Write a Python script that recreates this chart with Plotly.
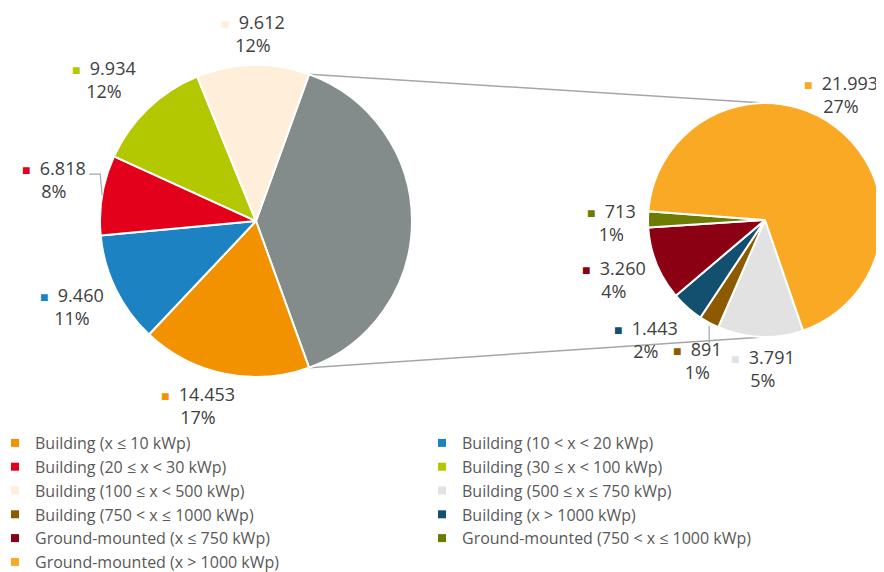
import math
import plotly.graph_objects as go

# data
main_labels = ["Building (x ≤ 10 kWp)", "Building (10 < x < 20 kWp)", "Building (20 ≤ x < 30 kWp)",
               "Building (30 ≤ x < 100 kWp)", "Building (100 ≤ x < 500 kWp)"]
main_values = [14453, 9460, 6818, 9934, 9612]
main_pct = ["17%", "11%", "8%", "12%", "12%"]

sub_labels = ["Building (500 ≤ x ≤ 750 kWp)", "Building (750 < x ≤ 1000 kWp)", "Building (x > 1000 kWp)",
              "Ground-mounted (x ≤ 750 kWp)", "Ground-mounted (750 < x ≤ 1000 kWp)",
              "Ground-mounted (x > 1000 kWp)"]
sub_values = [3791, 891, 1443, 3260, 713, 21993]
sub_pct = ["5%", "1%", "2%", "4%", "1%", "27%"]

legend_order = ["Building (x ≤ 10 kWp)", "Building (10 < x < 20 kWp)", "Building (20 ≤ x < 30 kWp)",
                "Building (30 ≤ x < 100 kWp)", "Building (100 ≤ x < 500 kWp)", "Building (500 ≤ x ≤ 750 kWp)",
                "Building (750 < x ≤ 1000 kWp)", "Building (x > 1000 kWp)", "Ground-mounted (x ≤ 750 kWp)",
                "Ground-mounted (750 < x ≤ 1000 kWp)", "Ground-mounted (x > 1000 kWp)"]

# styling
main_colors = ["#F39200", "#1D82C2", "#E3001B", "#B3C800", "#FEEEDA"]
other_color = "#848C8B"
sub_colors = ["#E1E2E1", "#8E5A00", "#134F6F", "#8B0013", "#6D7C00", "#F9A923"]
colors = dict(zip(main_labels + sub_labels, main_colors + sub_colors))

# the page body adds an 8px margin, so the figure is drawn 8px smaller
OFF = 8
W, H = 884 - OFF, 572 - OFF
LEG_TOP = 426                 # legend top in window pixels
HP = LEG_TOP - OFF            # plot area height; legend sits below it
FONT = "Open Sans"
TXT = "#404040"

# geometry (window pixels)
c1, r1 = (256, 221), 156
c2, r2 = (765, 220), 117
sub_rotation = 161
# label placement: (radius factor, angle nudge in degrees)
main_lab = [(1.24, 5.7), (1.30, 1.0), (1.32, 2.2), (1.335, -3.2), (1.20, 0.2)]
sub_lab = [(1.27, -1.3), (1.33, -3.0), (1.44, 3.2), (1.39, 0.6), (1.31, -1.4), (1.25, -6.5)]
leader_main = [False, False, True, False, False]
leader_sub = [False, True, False, False, False, False]


def px(x):
    return (x - OFF) / W


def py(y):
    return 1 - (y - OFF) / HP


def fmt(v):
    return f"{v:,}".replace(",", ".")


other_value = sum(sub_values)
total = sum(main_values) + other_value
main_rotation = 90 - other_value / total * 180
other_span = other_value / total * 360


def point(c, r, ang):
    a = math.radians(ang)
    return c[0] + r * math.sin(a), c[1] - r * math.cos(a)


def mid_angles(values, tot, rotation):
    out, cur = [], rotation
    for v in values:
        span = v / tot * 360
        out.append(cur + span / 2)
        cur += span
    return out


fig = go.Figure()

fig.add_trace(go.Pie(
    values=[other_value] + main_values,
    labels=["other"] + main_labels,
    marker=dict(colors=[other_color] + main_colors, line=dict(color="white", width=2)),
    sort=False, direction="clockwise", rotation=main_rotation,
    textinfo="none", hoverinfo="label+value", showlegend=False,
    domain=dict(x=[px(c1[0] - r1), px(c1[0] + r1)], y=[py(c1[1] + r1), py(c1[1] - r1)]),
))

fig.add_trace(go.Pie(
    values=sub_values,
    labels=sub_labels,
    marker=dict(colors=sub_colors, line=dict(color="white", width=2)),
    sort=False, direction="clockwise", rotation=sub_rotation,
    textinfo="none", hoverinfo="label+value", showlegend=False,
    domain=dict(x=[px(c2[0] - r2), px(c2[0] + r2)], y=[py(c2[1] + r2), py(c2[1] - r2)]),
))

# legend entries
for lab in legend_order:
    fig.add_trace(go.Scatter(
        x=[None], y=[None], mode="markers", name=lab,
        marker=dict(symbol="square", size=8, color=colors[lab]),
    ))

# connector lines between the "other" slice and the second pie
p_top = point(c1, r1, main_rotation)
p_bot = point(c1, r1, main_rotation + other_span)
shapes = []
for a, b in [(p_top, (c2[0], c2[1] - r2)), (p_bot, (c2[0], c2[1] + r2))]:
    shapes.append(dict(type="line", xref="paper", yref="paper", layer="below",
                       x0=px(a[0]), y0=py(a[1]), x1=px(b[0]), y1=py(b[1]),
                       line=dict(color="#A6A6A6", width=1.5)))

annotations = []


def add_labels(c, r, values, tot, rotation, pct, cols, place, leaders):
    for ang, v, p, col, (k, dang), lead in zip(mid_angles(values, tot, rotation), values, pct,
                                                 cols, place, leaders):
        x, y = point(c, r * k, ang + dang)
        annotations.append(dict(
            x=px(x), y=py(y), xref="paper", yref="paper", showarrow=False,
            xanchor="center", yanchor="middle", align="center",
            text=f"<span style='color:{col};font-size:14px'>■</span>  {fmt(v)}<br>{p}",
            font=dict(family=FONT, size=18, color=TXT),
        ))
        if lead:
            ex, ey = point(c, r, ang)
            if abs(math.sin(math.radians(ang))) > 0.7:
                # side label: up from the slice edge, then across to the label
                ky = y - 5
                path = f"M {px(ex)},{py(ey)} L {px(ex - 2)},{py(ky)} L {px(ex - 13)},{py(ky)}"
            else:
                ky = y - 17
                path = f"M {px(ex)},{py(ey + 3)} L {px(ex)},{py(ky)}"
            shapes.append(dict(type="path", xref="paper", yref="paper", path=path,
                               line=dict(color="#A6A6A6", width=1.2)))


add_labels(c1, r1, main_values, total, main_rotation + other_span, main_pct, main_colors,
           main_lab, leader_main)
add_labels(c2, r2, sub_values, sum(sub_values), sub_rotation, sub_pct, sub_colors,
           sub_lab, leader_sub)

fig.update_layout(
    width=W, height=H,
    margin=dict(l=0, r=0, t=0, b=H - HP, autoexpand=False),
    paper_bgcolor="white", plot_bgcolor="white",
    font=dict(family=FONT, color="#595959"),
    xaxis=dict(visible=False), yaxis=dict(visible=False),
    shapes=shapes, annotations=annotations,
    legend=dict(
        orientation="h", x=-13 / W, xanchor="left", y=0, yanchor="top",
        entrywidth=382, entrywidthmode="pixels",
        font=dict(family=FONT, size=16, color="#595959"),
        bgcolor="rgba(0,0,0,0)", itemclick=False,
    ),
)

fig.write_html("out.html")
